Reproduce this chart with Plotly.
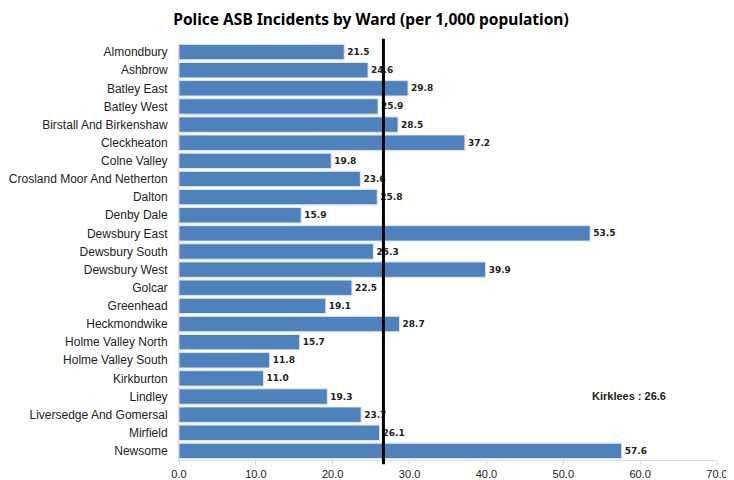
import plotly.graph_objects as go

wards = ["Almondbury", "Ashbrow", "Batley East", "Batley West", "Birstall And Birkenshaw",
         "Cleckheaton", "Colne Valley", "Crosland Moor And Netherton", "Dalton", "Denby Dale",
         "Dewsbury East", "Dewsbury South", "Dewsbury West", "Golcar", "Greenhead",
         "Heckmondwike", "Holme Valley North", "Holme Valley South", "Kirkburton", "Lindley",
         "Liversedge And Gomersal", "Mirfield", "Newsome"]
values = [21.5, 24.6, 29.8, 25.9, 28.5, 37.2, 19.8, 23.6, 25.8, 15.9, 53.5, 25.3, 39.9,
          22.5, 19.1, 28.7, 15.7, 11.8, 11.0, 19.3, 23.7, 26.1, 57.6]
kirklees = 26.6
x_ticks = [0, 10, 20, 30, 40, 50, 60, 70]

fig = go.Figure()
fig.add_trace(go.Bar(
    y=wards, x=values, orientation="h",
    marker=dict(color="#4F81BD", line=dict(color="#DCE6F2", width=1)),
    text=[f"{v:.1f}" for v in values], textposition="outside",
    textfont=dict(family="DejaVu Sans", size=9, color="#222222", weight="bold"),
    cliponaxis=False,
))

fig.add_shape(type="line", x0=kirklees, x1=kirklees, xref="x", y0=-0.01, y1=1.01, yref="paper",
              line=dict(color="black", width=3))

fig.add_annotation(x=58.6, y="Lindley", text="<b>Kirklees : 26.6</b>", showarrow=False,
                   font=dict(family="Liberation Sans", size=11, color="#222222"), yshift=1)

fig.update_layout(
    width=726, height=472,
    title=dict(text="<b>Police ASB Incidents by Ward (per 1,000 population)</b>", x=0.5, y=0.975,
               xanchor="center", yanchor="middle",
               font=dict(family="Noto Sans", size=15.5, color="black")),
    margin=dict(l=171, r=17, t=35, b=20),
    plot_bgcolor="white", paper_bgcolor="white",
    bargap=0.15, showlegend=False,
    font=dict(family="Liberation Sans", size=12, color="#222222"),
)
fig.update_xaxes(range=[0, 70], tickvals=x_ticks, ticktext=[f"{t:.1f}" for t in x_ticks],
                 showgrid=False, zeroline=False, showline=True, linecolor="#D9D9D9",
                 ticks="outside", ticklen=4, tickcolor="#D9D9D9", automargin=False,
                 tickfont=dict(family="Liberation Sans", size=11, color="#222222"))
fig.update_yaxes(autorange="reversed", showgrid=False, showline=True, linecolor="#D9D9D9",
                 ticks="", ticklabelstandoff=8, automargin=False,
                 tickfont=dict(family="Liberation Sans", size=12, color="#222222"))

fig.write_html("out.html")
